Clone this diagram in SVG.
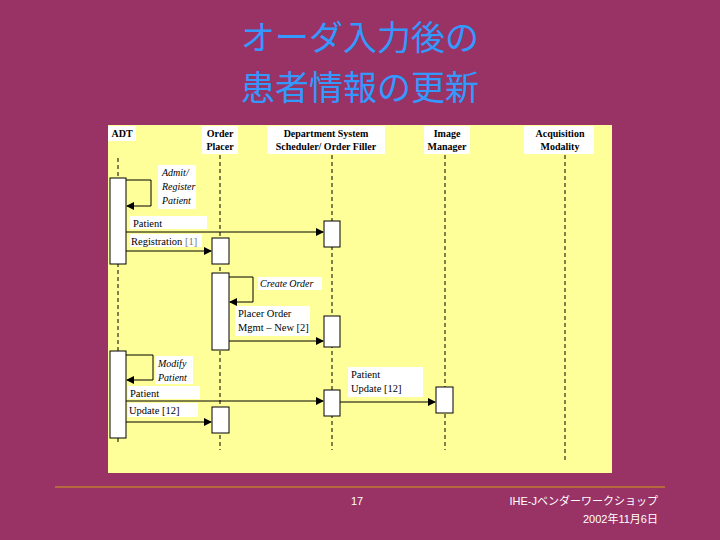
<svg xmlns="http://www.w3.org/2000/svg" width="720" height="540" viewBox="0 0 720 540">
<defs>
<marker id="ah" markerWidth="8" markerHeight="8" refX="7" refY="4" orient="auto" markerUnits="userSpaceOnUse"><path d="M0,0 L8,4 L0,8 z" fill="#000"/></marker>
<style>
.title{font-family:"Noto Sans CJK JP",sans-serif;font-size:34px;fill:#3399ff}
.hd{font-family:"Liberation Serif",serif;font-size:10px;font-weight:bold;text-anchor:middle}
.lb{font-family:"Liberation Serif",serif;font-size:10.5px}
.it{font-family:"Liberation Serif",serif;font-size:10px;font-style:italic}
.lf{stroke:#000;stroke-width:1;stroke-dasharray:4,3}
.act{fill:#fff;stroke:#000;stroke-width:1}
.wb{fill:#fff}
.ar{stroke:#000;stroke-width:1;fill:none;marker-end:url(#ah)}
.ft{font-family:"Liberation Sans","Noto Sans CJK JP",sans-serif;font-size:11px;fill:#fff}
</style>
</defs>
<rect width="720" height="540" fill="#993366"/>
<text class="title" x="360" y="50" text-anchor="middle">オーダ入力後の</text>
<text class="title" x="360" y="100" text-anchor="middle">患者情報の更新</text>
<rect x="108" y="125" width="504" height="348" fill="#ffff99"/>
<g id="adt"><rect class="wb" x="108" y="126" width="28" height="15"/><text class="hd" x="122" y="137">ADT</text><line class="lf" x1="118" y1="158" x2="118" y2="445"/></g>
<g id="op"><rect class="wb" x="202" y="126" width="36" height="28"/><text class="hd" x="220" y="137">Order</text><text class="hd" x="220" y="150">Placer</text><line class="lf" x1="220" y1="155" x2="220" y2="450"/></g>
<g id="dss"><rect class="wb" x="267" y="126" width="118" height="28"/><text class="hd" x="326" y="137">Department System</text><text class="hd" x="326" y="150">Scheduler/ Order Filler</text><line class="lf" x1="332" y1="155" x2="332" y2="450"/></g>
<g id="im"><rect class="wb" x="424" y="126" width="46" height="28"/><text class="hd" x="447" y="137">Image</text><text class="hd" x="447" y="150">Manager</text><line class="lf" x1="445" y1="155" x2="445" y2="450"/></g>
<g id="am"><rect class="wb" x="524" y="126" width="70" height="28"/><text class="hd" x="560" y="137">Acquisition</text><text class="hd" x="560" y="150">Modality</text><line class="lf" x1="565" y1="155" x2="565" y2="462"/></g>
<g id="acts">
<rect class="act" x="110" y="178" width="16" height="86"/>
<rect class="act" x="110" y="351" width="16" height="87"/>
<rect class="act" x="212" y="238" width="17" height="26"/>
<rect class="act" x="212" y="273" width="17" height="77"/>
<rect class="act" x="212" y="407" width="17" height="26"/>
<rect class="act" x="324" y="221" width="16" height="26"/>
<rect class="act" x="324" y="316" width="16" height="31"/>
<rect class="act" x="324" y="390" width="16" height="26"/>
<rect class="act" x="436" y="387" width="17" height="26"/>
</g>
<g id="connectors">
<path class="ar" d="M126,180 H151 V206 H127"/>
<path class="ar" d="M126,232 H323"/>
<path class="ar" d="M126,251 H211"/>
<path class="ar" d="M229,277 H253 V302 H230"/>
<path class="ar" d="M229,341 H323"/>
<path class="ar" d="M126,355 H153 V380 H127"/>
<path class="ar" d="M126,401 H323"/>
<path class="ar" d="M126,422 H211"/>
<path class="ar" d="M340,402 H435"/>
</g>
<g id="labels">
<rect class="wb" x="158" y="165" width="38" height="44"/>
<text class="it" x="162" y="176">Admit/</text><text class="it" x="162" y="190">Register</text><text class="it" x="162" y="204">Patient</text>
<rect class="wb" x="130" y="216" width="77" height="13"/><text class="lb" x="133" y="227">Patient</text>
<rect class="wb" x="130" y="234" width="72" height="13"/><text class="lb" x="131" y="245">Registration <tspan fill="#777">[1]</tspan></text>
<rect class="wb" x="258" y="277" width="64" height="13"/><text class="it" x="260" y="287">Create Order</text>
<rect class="wb" x="235" y="306" width="75" height="30"/><text class="lb" x="238" y="317">Placer Order</text><text class="lb" x="238" y="331">Mgmt – New [2]</text>
<rect class="wb" x="155" y="356" width="38" height="28"/><text class="it" x="158" y="367">Modify</text><text class="it" x="158" y="381">Patient</text>
<rect class="wb" x="128" y="386" width="72" height="13"/><text class="lb" x="130" y="397">Patient</text>
<rect class="wb" x="128" y="403" width="70" height="14"/><text class="lb" x="129" y="414">Update [12]</text>
<rect class="wb" x="348" y="367" width="75" height="30"/><text class="lb" x="351" y="378">Patient</text><text class="lb" x="351" y="392">Update [12]</text>
</g>
<line x1="55" y1="487" x2="665" y2="487" stroke="#d4a017" stroke-width="1"/>
<text class="ft" x="357" y="505" text-anchor="middle">17</text>
<text class="ft" x="658" y="505" text-anchor="end">IHE-Jベンダーワークショップ</text>
<text class="ft" x="658" y="523" text-anchor="end">2002年11月6日</text>
</svg>
